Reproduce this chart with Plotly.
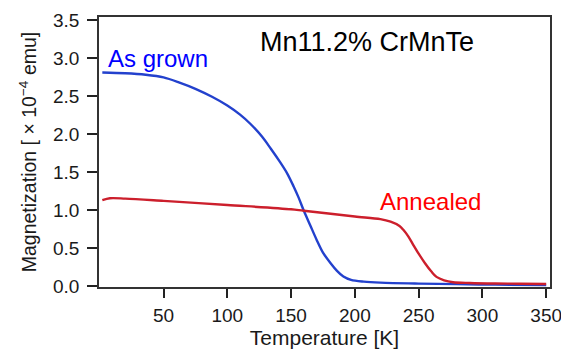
import plotly.graph_objects as go

# As grown
t_grown = [2, 20, 36, 50, 62, 75, 88, 100, 110, 118, 127, 134, 141, 147, 152, 156, 160,
           165, 170, 175, 181, 186, 191, 197, 207, 220, 250, 280, 310, 350]
m_grown = [2.81, 2.80, 2.78, 2.745, 2.68, 2.595, 2.49, 2.375, 2.255, 2.135, 1.97, 1.81, 1.64,
           1.48, 1.31, 1.16, 0.99, 0.80, 0.61, 0.44, 0.30, 0.20, 0.125, 0.08, 0.057,
           0.044, 0.032, 0.025, 0.018, 0.013]

# Annealed
t_ann = [2, 8, 20, 50, 100, 150, 160, 200, 220, 228, 235, 238, 242, 246, 250, 255, 260,
         264, 270, 277, 290, 310, 330, 350]
m_ann = [1.13, 1.155, 1.15, 1.12, 1.066, 1.01, 0.99, 0.915, 0.88, 0.846, 0.79, 0.74,
         0.65, 0.535, 0.425, 0.30, 0.19, 0.12, 0.075, 0.05, 0.04, 0.033, 0.03, 0.026]

x_ticks = [50, 100, 150, 200, 250, 300, 350]
y_ticks = [0.0, 0.5, 1.0, 1.5, 2.0, 2.5, 3.0, 3.5]

FONT = "Liberation Sans, Arial"

fig = go.Figure()
fig.add_trace(go.Scatter(x=t_grown, y=m_grown, mode="lines", name="As grown",
                         line=dict(color="#2341cd", width=2.4, shape="spline", smoothing=0.9)))
fig.add_trace(go.Scatter(x=t_ann, y=m_ann, mode="lines", name="Annealed",
                         line=dict(color="#cc1f2c", width=2.4, shape="spline", smoothing=0.9)))

tickfont = dict(family=FONT, size=19, color="#1a1a1a")
fig.update_xaxes(range=[-0.6, 353], tickvals=x_ticks, ticks="outside", ticklen=9,
                 tickwidth=1.5, tickcolor="#222", showline=True, linecolor="#333",
                 linewidth=1.5, mirror=True, showgrid=False, zeroline=False,
                 tickfont=tickfont, automargin=False, ticklabelstandoff=1,
                 title=dict(text="Temperature [K]", standoff=2,
                            font=dict(family=FONT, size=21, color="#1a1a1a")))
fig.update_yaxes(range=[-0.013, 3.54], tickvals=y_ticks, tickformat=".1f", ticks="outside",
                 ticklen=10, tickwidth=1.5, tickcolor="#222", showline=True, linecolor="#333",
                 linewidth=1.5, mirror=True, showgrid=False, zeroline=False,
                 tickfont=tickfont, automargin=False, ticklabelstandoff=4,
                 title=dict(text="Magnetization [ × 10<sup>−4</sup> emu]", standoff=11,
                            font=dict(family=FONT, size=19.5, color="#1a1a1a")))

fig.add_annotation(x=209.4, y=3.21, text="Mn11.2% CrMnTe", showarrow=False,
                   font=dict(family=FONT, size=27, color="black"))
fig.add_annotation(x=45.8, y=3.0, text="As grown", showarrow=False,
                   font=dict(family=FONT, size=24, color="#0000ff"))
fig.add_annotation(x=259, y=1.11, text="Annealed", showarrow=False,
                   font=dict(family=FONT, size=24, color="#ff0000"))

# page body adds an 8px offset, so the figure is sized/margined to compensate
fig.update_layout(width=561, height=341, showlegend=False,
                  paper_bgcolor="white", plot_bgcolor="white",
                  margin=dict(l=91, r=19, t=9, b=62))
fig.write_html("out.html")
